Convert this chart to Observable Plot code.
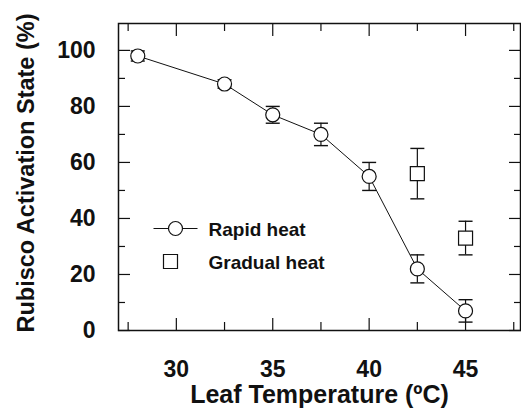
<!DOCTYPE html>
<html>
<head>
<meta charset="utf-8">
<script src="https://cdn.jsdelivr.net/npm/d3@7"></script>
<script src="https://cdn.jsdelivr.net/npm/@observablehq/plot@0.6"></script>
<style>
  html, body { margin: 0; padding: 0; background: #fff; }
  #chart svg { display: block; }
</style>
</head>
<body>
<div id="chart"></div>
<script>
// Rapid heat series
const rapidTemp = [28, 32.5, 35, 37.5, 40, 42.5, 45];
const rapidValue = [98, 88, 77, 70, 55, 22, 7];
const rapidErr = [1.8, 1.5, 3, 4, 5, 5, 4];
// Gradual heat series
const gradualTemp = [42.5, 45];
const gradualValue = [56, 33];
const gradualErr = [9, 6];
// Axis ticks
const xMajor = [30, 35, 40, 45];
const xMinor = [27.5, 32.5, 37.5, 42.5, 47.5];
const yMajor = [0, 20, 40, 60, 80, 100];
const yMinor = [10, 30, 50, 70, 90];
const legendLabels = ["Rapid heat", "Gradual heat"];
const xTitle = "Leaf Temperature (\u00BAC)";
const yTitle = "Rubisco Activation State (%)";

const rapid = rapidTemp.map((t, i) => ({t, v: rapidValue[i], e: rapidErr[i]}));
const gradual = gradualTemp.map((t, i) => ({t, v: gradualValue[i], e: gradualErr[i]}));

const font = "'Liberation Sans', Arial, Helvetica, sans-serif";
const hline = (w) => ({draw(ctx) { ctx.moveTo(-w, 0); ctx.lineTo(w, 0); }});
const cap = hline(7);

const inward = (k, anchor, ticks, size) => (k === "x" ? Plot.axisX : Plot.axisY)({
  anchor, ticks, tickSize: -size, tickFormat: () => "", label: null, strokeWidth: 1.2
});

const chart = Plot.plot({
  width: 521,
  height: 409,
  marginLeft: 118,
  marginRight: 1,
  marginTop: 23,
  marginBottom: 79,
  style: {fontFamily: font, background: "#fff", color: "#111"},
  x: {domain: [27, 47.85]},
  y: {domain: [0, 109.6]},
  marks: [
    Plot.frame({stroke: "#111", strokeWidth: 1.5}),
    inward("y", "left", yMajor, 12),
    inward("y", "left", yMinor, 7),
    inward("y", "right", yMajor, 12),
    inward("y", "right", yMinor, 7),
    inward("x", "bottom", xMajor, 12),
    inward("x", "bottom", xMinor, 8),
    inward("x", "top", xMajor, 12),
    inward("x", "top", xMinor, 7),
    Plot.axisY({ticks: yMajor, tickSize: 0, tickPadding: 23, fontSize: 23, fontWeight: "bold", label: null}),
    Plot.axisX({ticks: xMajor, tickSize: 0, tickPadding: 30, fontSize: 23, fontWeight: "bold", label: null}),
    Plot.text([yTitle], {frameAnchor: "left", textAnchor: "middle", lineAnchor: "middle", dx: -92, dy: -4, rotate: -90, fontSize: 23.5, fontWeight: "bold", fill: "#111"}),
    Plot.text([xTitle], {frameAnchor: "bottom", textAnchor: "middle", lineAnchor: "middle", dy: 64, fontSize: 25, fontWeight: "bold", fill: "#111"}),
    // rapid heat
    Plot.line(rapid, {x: "t", y: "v", stroke: "#111", strokeWidth: 1}),
    Plot.ruleX(rapid, {x: "t", y1: d => d.v - d.e, y2: d => d.v + d.e, stroke: "#111", strokeWidth: 1.2}),
    Plot.dot(rapid, {x: "t", y: d => d.v + d.e, symbol: cap, stroke: "#111", strokeWidth: 1.4}),
    Plot.dot(rapid, {x: "t", y: d => d.v - d.e, symbol: cap, stroke: "#111", strokeWidth: 1.4}),
    Plot.dot(rapid, {x: "t", y: "v", r: 7, fill: "#fff", stroke: "#111", strokeWidth: 1.2}),
    // gradual heat
    Plot.ruleX(gradual, {x: "t", y1: d => d.v - d.e, y2: d => d.v + d.e, stroke: "#111", strokeWidth: 1.2}),
    Plot.dot(gradual, {x: "t", y: d => d.v + d.e, symbol: cap, stroke: "#111", strokeWidth: 1.4}),
    Plot.dot(gradual, {x: "t", y: d => d.v - d.e, symbol: cap, stroke: "#111", strokeWidth: 1.4}),
    Plot.dot(gradual, {x: "t", y: "v", symbol: "square", r: 7.9, fill: "#fff", stroke: "#111", strokeWidth: 1.2}),
    // legend
    Plot.dot([legendLabels[0]], {frameAnchor: "top-left", dx: 57, dy: 205, symbol: hline(22), stroke: "#111", strokeWidth: 1}),
    Plot.dot([legendLabels[0]], {frameAnchor: "top-left", dx: 57, dy: 205, r: 7, fill: "#fff", stroke: "#111", strokeWidth: 1.2}),
    Plot.dot([legendLabels[1]], {frameAnchor: "top-left", dx: 52, dy: 238, symbol: "square", r: 7.9, fill: "#fff", stroke: "#111", strokeWidth: 1.2}),
    Plot.text([legendLabels[0]], {frameAnchor: "top-left", textAnchor: "start", lineAnchor: "middle", dx: 90, dy: 206, fontSize: 19, fontWeight: "bold", fill: "#111"}),
    Plot.text([legendLabels[1]], {frameAnchor: "top-left", textAnchor: "start", lineAnchor: "middle", dx: 90, dy: 239, fontSize: 19, fontWeight: "bold", fill: "#111"})
  ]
});
document.getElementById("chart").append(chart);
</script>
</body>
</html>
